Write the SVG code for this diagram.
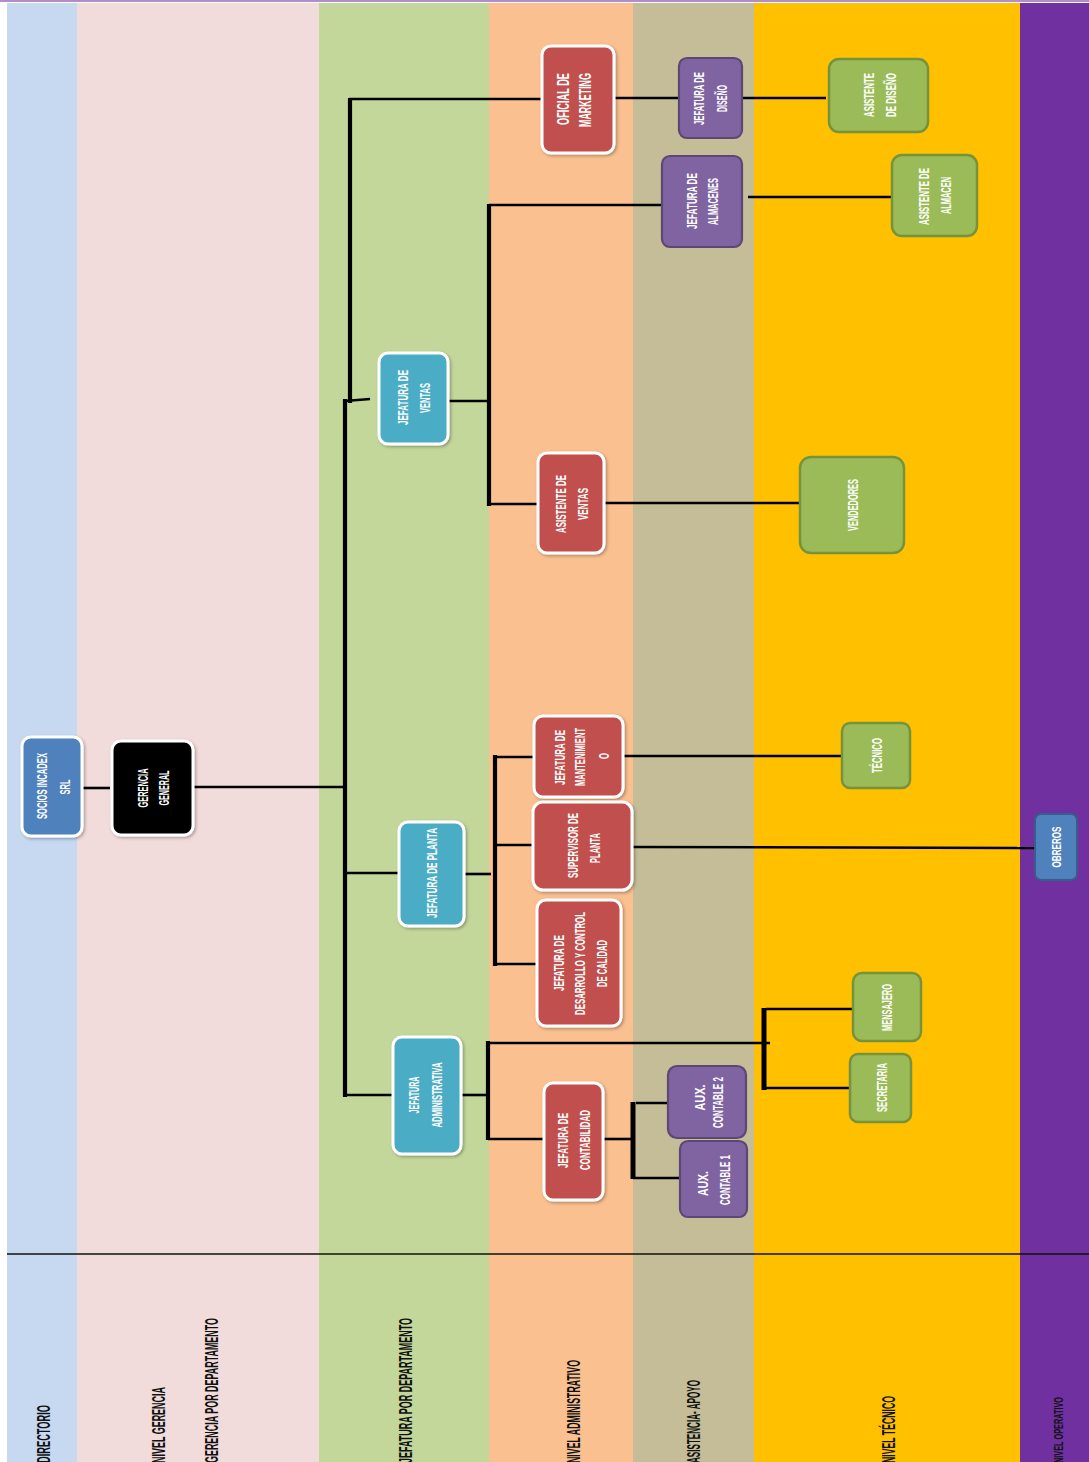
<svg xmlns="http://www.w3.org/2000/svg" width="1089" height="1462" viewBox="0 0 1089 1462">
  <defs>
    <style>
      .band { stroke: none; }
      .lbl { font-family: "Liberation Sans", Arial, sans-serif; font-size: 17.5px; font-weight: bold; fill: #111; }
      .t { font-family: "Liberation Sans", Arial, sans-serif; font-size: 15px; font-weight: bold; fill: #fff; text-anchor: middle; }
      .w { stroke: #fff; stroke-width: 3; filter: url(#sh); }
      .teal { fill: #4bacc6; }
      .red { fill: #c0504d; }
      .pur { fill: #8064a2; stroke: #5c4776; stroke-width: 2.2; }
      .grn { fill: #9bbb59; stroke: #76923c; stroke-width: 2.5; }
      .blu { fill: #4f81bd; }
      .c { fill: none; stroke: #000; stroke-width: 2.6; stroke-linecap: butt; }
      .cb { fill: none; stroke: #000; stroke-width: 4.2; stroke-linecap: butt; }
    </style>
    <filter id="sh" x="-20%" y="-20%" width="140%" height="140%">
      <feDropShadow dx="1.5" dy="1.5" stdDeviation="1.5" flood-color="#000" flood-opacity="0.3"/>
    </filter>
  </defs>

  <!-- background and level bands -->
  <rect x="0" y="0" width="1089" height="1462" fill="#fff"/>
  <rect x="0" y="0" width="1089" height="2" fill="#b48cc8"/>
  <g id="bands">
    <rect class="band" x="7" y="3" width="70" height="1459" fill="#c6d9f1"/>
    <rect class="band" x="77" y="3" width="242" height="1459" fill="#f2dcdb"/>
    <rect class="band" x="319" y="3" width="170" height="1459" fill="#c4d79b"/>
    <rect class="band" x="489" y="3" width="144" height="1459" fill="#fac090"/>
    <rect class="band" x="633" y="3" width="121" height="1459" fill="#c4bd97"/>
    <rect class="band" x="754" y="3" width="266" height="1459" fill="#ffc000"/>
    <rect class="band" x="1020" y="3" width="69" height="1459" fill="#7030a0"/>
  </g>
  <line x1="7" y1="1254" x2="1089" y2="1254" stroke="#111" stroke-width="1.5"/>

  <!-- level names -->
  <g id="levels">
    <text class="lbl" transform="translate(49.5,1463) rotate(-90)" textLength="58" lengthAdjust="spacingAndGlyphs">DIRECTORIO</text>
    <text class="lbl" transform="translate(164.5,1463) rotate(-90)" textLength="76" lengthAdjust="spacingAndGlyphs">NIVEL GERENCIA</text>
    <text class="lbl" transform="translate(218,1463) rotate(-90)" textLength="145" lengthAdjust="spacingAndGlyphs">GERENCIA POR DEPARTAMENTO</text>
    <text class="lbl" transform="translate(411.5,1463) rotate(-90)" textLength="145" lengthAdjust="spacingAndGlyphs">JEFATURA POR DEPARTAMENTO</text>
    <text class="lbl" transform="translate(580,1463) rotate(-90)" textLength="103" lengthAdjust="spacingAndGlyphs">NIVEL ADMINISTRATIVO</text>
    <text class="lbl" transform="translate(699.5,1463) rotate(-90)" textLength="83" lengthAdjust="spacingAndGlyphs">ASISTENCIA- APOYO</text>
    <text class="lbl" transform="translate(894.5,1463) rotate(-90)" textLength="67" lengthAdjust="spacingAndGlyphs">NIVEL TÉCNICO</text>
    <text class="lbl" style="font-size:13px" transform="translate(1062.5,1463) rotate(-90)" textLength="66" lengthAdjust="spacingAndGlyphs">NIVEL OPERATIVO</text>
  </g>

  <!-- connectors -->
  <g id="connectors">
    <line class="c" x1="82" y1="788" x2="110" y2="788"/>
    <line class="c" x1="193" y1="787" x2="345" y2="787"/>
    <line class="cb" x1="345" y1="399" x2="345" y2="1097"/>
    <line class="cb" x1="350" y1="98" x2="350" y2="403"/>
    <polyline class="c" points="345,401 370,399"/>
    <line class="c" x1="349" y1="99" x2="543" y2="99"/>
    <line class="c" x1="345" y1="873" x2="399" y2="873"/>
    <line class="c" x1="345" y1="1095" x2="393" y2="1095"/>
    <!-- ventas branch -->
    <line class="c" x1="448" y1="401" x2="490" y2="401"/>
    <line class="cb" x1="489" y1="204" x2="489" y2="506"/>
    <line class="c" x1="489" y1="205" x2="662" y2="205"/>
    <line class="c" x1="489" y1="504" x2="539" y2="504"/>
    <line class="c" x1="604" y1="503" x2="800" y2="503"/>
    <line class="c" x1="614" y1="98" x2="680" y2="98"/>
    <line class="c" x1="742" y1="98" x2="826" y2="98"/>
    <line class="c" x1="748" y1="197" x2="893" y2="197"/>
    <!-- planta branch -->
    <line class="c" x1="464" y1="874" x2="491" y2="874"/>
    <line class="cb" x1="495" y1="755" x2="495" y2="966"/>
    <line class="c" x1="495" y1="757" x2="535" y2="757"/>
    <line class="c" x1="493" y1="845" x2="534" y2="845"/>
    <line class="c" x1="495" y1="964" x2="540" y2="964"/>
    <line class="c" x1="622" y1="756" x2="842" y2="756"/>
    <line class="c" x1="631" y1="847" x2="1041" y2="848"/>
    <!-- administracion branch -->
    <line class="c" x1="461" y1="1095" x2="489" y2="1095"/>
    <line class="cb" x1="488" y1="1041" x2="488" y2="1140"/>
    <line class="c" x1="488" y1="1043" x2="770" y2="1043"/>
    <line class="c" x1="488" y1="1139" x2="545" y2="1139"/>
    <line class="c" x1="603" y1="1139" x2="634" y2="1139"/>
    <line class="cb" style="stroke-width:5" x1="633" y1="1102" x2="633" y2="1179"/>
    <line class="c" x1="636" y1="1103" x2="670" y2="1103"/>
    <line class="c" x1="633" y1="1178" x2="681" y2="1178"/>
    <line class="cb" style="stroke-width:5" x1="764" y1="1008" x2="764" y2="1090"/>
    <line class="c" x1="766" y1="1009" x2="852" y2="1009"/>
    <line class="c" x1="764" y1="1088" x2="852" y2="1088"/>
  </g>

  <!-- nodes -->
  <g id="socios">
    <rect class="blu w" x="22" y="737" width="60" height="99" rx="9"/>
    <text class="t" transform="translate(46.5,786) rotate(-90)" textLength="66" lengthAdjust="spacingAndGlyphs">SOCIOS INCADEX</text>
    <text class="t" transform="translate(69.5,787) rotate(-90)" textLength="15" lengthAdjust="spacingAndGlyphs">SRL</text>
  </g>
  <g id="gerencia-general">
    <rect class="w" fill="#000" x="112" y="741" width="81" height="94" rx="9"/>
    <text class="t" transform="translate(147.5,788) rotate(-90)" textLength="39" lengthAdjust="spacingAndGlyphs">GERENCIA</text>
    <text class="t" transform="translate(168.5,788) rotate(-90)" textLength="35" lengthAdjust="spacingAndGlyphs">GENERAL</text>
  </g>
  <g id="jefatura-ventas">
    <rect class="teal w" x="379" y="353" width="69" height="91" rx="9"/>
    <text class="t" transform="translate(408,397.5) rotate(-90)" textLength="55" lengthAdjust="spacingAndGlyphs">JEFATURA DE</text>
    <text class="t" transform="translate(429.5,398) rotate(-90)" textLength="30" lengthAdjust="spacingAndGlyphs">VENTAS</text>
  </g>
  <g id="asistente-ventas">
    <rect class="red w" x="538" y="453" width="66" height="100" rx="9"/>
    <text class="t" transform="translate(566,504) rotate(-90)" textLength="58" lengthAdjust="spacingAndGlyphs">ASISTENTE DE</text>
    <text class="t" transform="translate(588,504) rotate(-90)" textLength="32" lengthAdjust="spacingAndGlyphs">VENTAS</text>
  </g>
  <g id="oficial-marketing">
    <rect class="red w" x="542" y="46" width="72" height="107" rx="9"/>
    <text class="t" style="font-size:16px" transform="translate(569,99) rotate(-90)" textLength="52" lengthAdjust="spacingAndGlyphs">OFICIAL DE</text>
    <text class="t" style="font-size:16px" transform="translate(590.5,100) rotate(-90)" textLength="54" lengthAdjust="spacingAndGlyphs">MARKETING</text>
  </g>
  <g id="jefatura-diseno">
    <rect class="pur" x="679" y="58" width="63" height="80" rx="8"/>
    <text class="t" transform="translate(703.5,98.5) rotate(-90)" textLength="53" lengthAdjust="spacingAndGlyphs">JEFATURA DE</text>
    <text class="t" transform="translate(726.5,98.5) rotate(-90)" textLength="27" lengthAdjust="spacingAndGlyphs">DISEÑO</text>
  </g>
  <g id="asistente-diseno">
    <rect class="grn" x="829" y="59" width="99" height="73" rx="10"/>
    <text class="t" transform="translate(873.5,95) rotate(-90)" textLength="44" lengthAdjust="spacingAndGlyphs">ASISTENTE</text>
    <text class="t" transform="translate(896,95) rotate(-90)" textLength="44" lengthAdjust="spacingAndGlyphs">DE DISEÑO</text>
  </g>
  <g id="jefatura-almacenes">
    <rect class="pur" x="662" y="156" width="80" height="91" rx="8"/>
    <text class="t" transform="translate(696.5,201) rotate(-90)" textLength="56" lengthAdjust="spacingAndGlyphs">JEFATURA DE</text>
    <text class="t" transform="translate(718,201.5) rotate(-90)" textLength="47" lengthAdjust="spacingAndGlyphs">ALMACENES</text>
  </g>
  <g id="asistente-almacen">
    <rect class="grn" x="892" y="155" width="85" height="81" rx="10"/>
    <text class="t" transform="translate(928.5,196.5) rotate(-90)" textLength="57" lengthAdjust="spacingAndGlyphs">ASISTENTE DE</text>
    <text class="t" transform="translate(950.5,195.5) rotate(-90)" textLength="37" lengthAdjust="spacingAndGlyphs">ALMACEN</text>
  </g>
  <g id="vendedores">
    <rect class="grn" x="800" y="457" width="104" height="96" rx="11"/>
    <text class="t" transform="translate(857.5,505) rotate(-90)" textLength="52" lengthAdjust="spacingAndGlyphs">VENDEDORES</text>
  </g>
  <g id="tecnico">
    <rect class="grn" x="842" y="723" width="68" height="65" rx="8"/>
    <text class="t" transform="translate(881.5,755.5) rotate(-90)" textLength="35" lengthAdjust="spacingAndGlyphs">TÉCNICO</text>
  </g>
  <g id="obreros">
    <rect class="blu" stroke="#385d8a" stroke-width="2" x="1035" y="814" width="42" height="66" rx="6"/>
    <text class="t" style="font-size:13px" transform="translate(1061,847) rotate(-90)" textLength="41" lengthAdjust="spacingAndGlyphs">OBREROS</text>
  </g>
  <g id="jefatura-planta">
    <rect class="teal w" x="399" y="822" width="65" height="104" rx="9"/>
    <text class="t" transform="translate(437,873) rotate(-90)" textLength="90" lengthAdjust="spacingAndGlyphs">JEFATURA DE PLANTA</text>
  </g>
  <g id="jefatura-mantenimiento">
    <rect class="red w" x="534" y="716" width="89" height="81" rx="9"/>
    <text class="t" transform="translate(564.5,757.5) rotate(-90)" textLength="55" lengthAdjust="spacingAndGlyphs">JEFATURA DE</text>
    <text class="t" transform="translate(584.5,757) rotate(-90)" textLength="58" lengthAdjust="spacingAndGlyphs">MANTENIMIENT</text>
    <text class="t" transform="translate(608.5,756) rotate(-90)" textLength="6" lengthAdjust="spacingAndGlyphs">O</text>
  </g>
  <g id="supervisor-planta">
    <rect class="red w" x="533" y="802" width="99" height="88" rx="10"/>
    <text class="t" transform="translate(578,845.5) rotate(-90)" textLength="65" lengthAdjust="spacingAndGlyphs">SUPERVISOR DE</text>
    <text class="t" transform="translate(599.5,848) rotate(-90)" textLength="30" lengthAdjust="spacingAndGlyphs">PLANTA</text>
  </g>
  <g id="jefatura-desarrollo">
    <rect class="red w" x="537" y="900" width="84" height="126" rx="9"/>
    <text class="t" transform="translate(564,963) rotate(-90)" textLength="56" lengthAdjust="spacingAndGlyphs">JEFATURA DE</text>
    <text class="t" transform="translate(585,963.5) rotate(-90)" textLength="103" lengthAdjust="spacingAndGlyphs">DESARROLLO Y CONTROL</text>
    <text class="t" transform="translate(606.5,963.5) rotate(-90)" textLength="47" lengthAdjust="spacingAndGlyphs">DE CALIDAD</text>
  </g>
  <g id="jefatura-administrativa">
    <rect class="teal w" x="393" y="1037" width="68" height="117" rx="9"/>
    <text class="t" transform="translate(418.5,1095) rotate(-90)" textLength="37" lengthAdjust="spacingAndGlyphs">JEFATURA</text>
    <text class="t" transform="translate(441.5,1095) rotate(-90)" textLength="65" lengthAdjust="spacingAndGlyphs">ADMINISTRATIVA</text>
  </g>
  <g id="jefatura-contabilidad">
    <rect class="red w" x="544" y="1083" width="59" height="117" rx="9"/>
    <text class="t" transform="translate(567.5,1140.5) rotate(-90)" textLength="55" lengthAdjust="spacingAndGlyphs">JEFATURA DE</text>
    <text class="t" transform="translate(589.5,1140) rotate(-90)" textLength="60" lengthAdjust="spacingAndGlyphs">CONTABILIDAD</text>
  </g>
  <g id="aux-contable-2">
    <rect class="pur" x="668" y="1066" width="78" height="72" rx="9"/>
    <text class="t" transform="translate(704.5,1097.5) rotate(-90)" textLength="26" lengthAdjust="spacingAndGlyphs">AUX.</text>
    <text class="t" transform="translate(723,1102.5) rotate(-90)" textLength="51" lengthAdjust="spacingAndGlyphs">CONTABLE 2</text>
  </g>
  <g id="aux-contable-1">
    <rect class="pur" x="680" y="1141" width="67" height="76" rx="8"/>
    <text class="t" transform="translate(707.5,1183.5) rotate(-90)" textLength="25" lengthAdjust="spacingAndGlyphs">AUX.</text>
    <text class="t" transform="translate(729.5,1180) rotate(-90)" textLength="50" lengthAdjust="spacingAndGlyphs">CONTABLE 1</text>
  </g>
  <g id="mensajero">
    <rect class="grn" x="853" y="973" width="68" height="68" rx="9"/>
    <text class="t" transform="translate(891.5,1007.5) rotate(-90)" textLength="47" lengthAdjust="spacingAndGlyphs">MENSAJERO</text>
  </g>
  <g id="secretaria">
    <rect class="grn" x="850" y="1054" width="61" height="68" rx="8"/>
    <text class="t" transform="translate(886.5,1087.5) rotate(-90)" textLength="49" lengthAdjust="spacingAndGlyphs">SECRETARIA</text>
  </g>
</svg>
